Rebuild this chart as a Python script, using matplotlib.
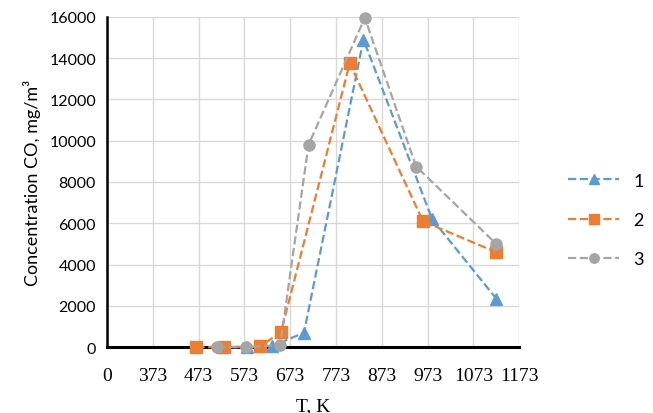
import matplotlib
matplotlib.use("Agg")
import matplotlib.pyplot as plt

# data
t1 = [523, 578, 633, 703, 833, 983, 1123]
c1 = [0, 0, 50, 700, 14900, 6200, 2350]
t2 = [468, 528, 608, 653, 803, 963, 1123]
c2 = [0, 0, 50, 730, 13750, 6100, 4600]
t3 = [513, 576, 651, 713, 836, 948, 1123]
c3 = [0, 0, 100, 9800, 15950, 8750, 5000]
xticks = [273, 373, 473, 573, 673, 773, 873, 973, 1073, 1173]
xlabels = ["0", "373", "473", "573", "673", "773", "873", "973", "1073", "1173"]
yticks = list(range(0, 16001, 2000))

fig = plt.figure(figsize=(6.53, 4.14), dpi=100)
ax = fig.add_axes([0.164, 0.159, 0.631, 0.798])

ax.plot(t1, c1, ls="--", lw=1.6, color="#5B9BD5", marker="^", ms=8,
        label="1", clip_on=False, zorder=3)
ax.plot(t2, c2, ls="--", lw=1.6, color="#ED7D31", marker="s", ms=8,
        label="2", clip_on=False, zorder=4)
ax.plot(t3, c3, ls="--", lw=1.6, color="#A5A5A5", marker="o", ms=8,
        label="3", clip_on=False, zorder=5)

ax.set_xlim(273, 1173)
ax.set_ylim(0, 16000)
ax.set_xticks(xticks)
ax.set_xticklabels(xlabels, family="Liberation Serif", fontsize=14)
ax.set_yticks(yticks)
ax.set_yticklabels([str(v) for v in yticks], family="Lato", fontsize=11.5)
ax.tick_params(length=0, pad=8)
ax.tick_params(axis="x", pad=14)

ax.grid(True, color="#d9d9d9", lw=1)
ax.set_axisbelow(True)
for s in ["top", "right"]:
    ax.spines[s].set_visible(False)
ax.spines["left"].set_linewidth(1.8)
ax.spines["bottom"].set_linewidth(2.2)

ax.set_xlabel("T, K", family="Liberation Serif", fontsize=14, labelpad=10)
ax.set_ylabel("Concentration CO, mg/m³", family="Lato",
              fontsize=13, labelpad=6)

ax.legend(loc="center left", bbox_to_anchor=(1.08, 0.385), frameon=False,
          prop={"family": "Lato", "size": 13}, handlelength=2.8,
          labelspacing=1.3, markerscale=0.85)

fig.savefig("out.png", dpi=100)
